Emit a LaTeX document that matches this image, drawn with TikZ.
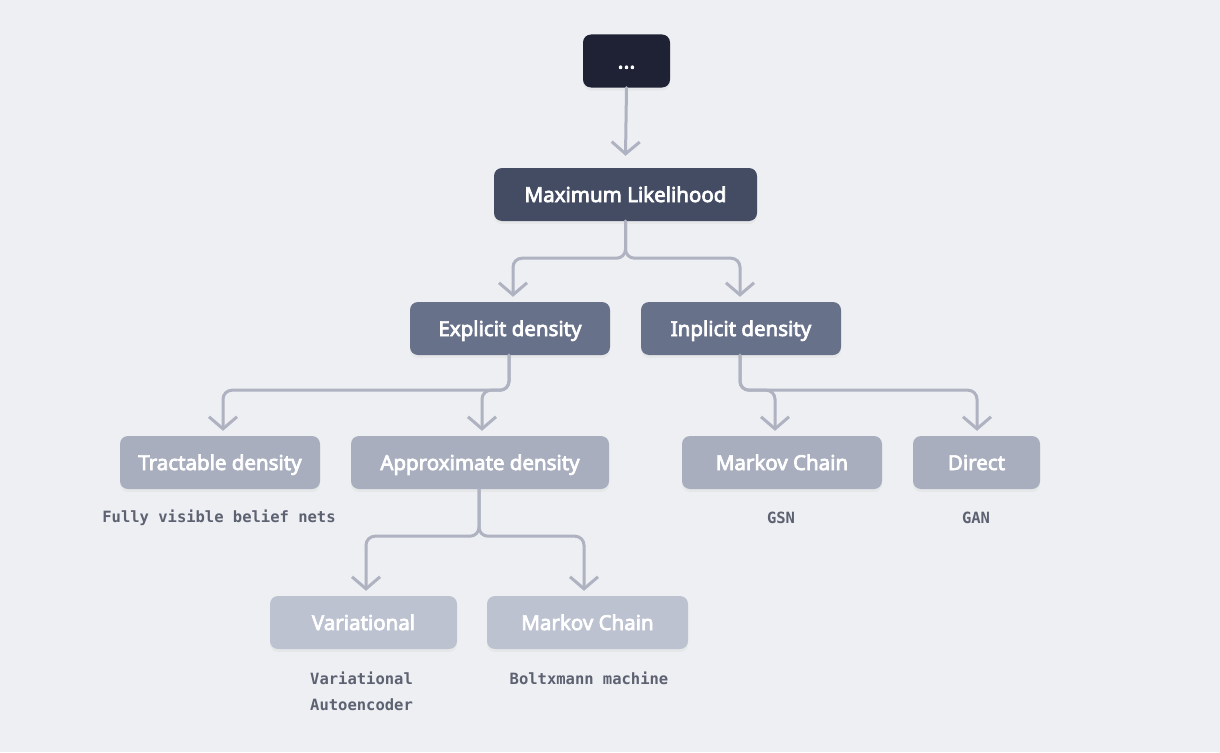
\documentclass[tikz,border=0pt]{standalone}
\usepackage{fontspec}
\setmainfont{Noto Sans}
\newfontfamily\boxfont{Noto Sans}[FakeBold=3.5]
\newfontfamily\labfont{DejaVu Sans Mono}
\usetikzlibrary{arrows.meta,shadows}
\definecolor{bg}{HTML}{EEEFF2}
\definecolor{cTop}{HTML}{1E2234}
\definecolor{cML}{HTML}{434C62}
\definecolor{cL2}{HTML}{68718A}
\definecolor{cL3}{HTML}{A8AEBD}
\definecolor{cL4}{HTML}{BDC2D1}
\definecolor{cConn}{HTML}{AFB2C1}
\definecolor{cLab}{HTML}{5D6272}
\begin{document}
\begin{tikzpicture}[x=1pt,y=-1pt,
  box/.style={rounded corners=8pt, minimum height=53pt, inner sep=0pt, text=white,
    text height=18pt, text depth=3pt,
    font=\boxfont\fontsize{20.5}{24}\selectfont,
    drop shadow={opacity=0.07, shadow xshift=0pt, shadow yshift=-3pt}},
  lab/.style={text=cLab, inner sep=0pt, font=\labfont\bfseries\fontsize{15.5}{26}\selectfont},
  conn/.style={draw=cConn, line width=3pt, rounded corners=9pt, line cap=round,
    -{Straight Barb[length=12pt,width=28pt,line width=3pt]}}
]
\fill[bg] (0,0) rectangle (1220,752);
\useasboundingbox (0,0) rectangle (1220,752);

\node[box, fill=cTop, minimum width=87pt] (top) at (626.5,61) {\fontsize{22}{24}\selectfont ...};
\node[box, fill=cML, minimum width=263pt] (ml) at (625.5,194.5) {Maximum Likelihood};
\node[box, fill=cL2, minimum width=200pt] (expl) at (510,328.5) {Explicit density};
\node[box, fill=cL2, minimum width=200pt] (impl) at (741,328.5) {Inplicit density};
\node[box, fill=cL3, minimum width=200pt] (tract) at (220,462.5) {Tractable density};
\node[box, fill=cL3, minimum width=258pt] (approx) at (480,462.5) {Approximate density};
\node[box, fill=cL3, minimum width=200pt] (mc1) at (782,462.5) {Markov Chain};
\node[box, fill=cL3, minimum width=127pt] (direct) at (976.5,462.5) {Direct};
\node[box, fill=cL4, minimum width=187pt] (var) at (363.5,622.5) {Variational};
\node[box, fill=cL4, minimum width=201pt] (mc2) at (587.5,622.5) {Markov Chain};

\node[lab] (l1) at (219,518) {Fully visible belief nets};
\node[lab] (l2) at (781,518) {GSN};
\node[lab] (l3) at (976,518) {GAN};
\node[lab, align=left, anchor=north west] (l4) at (310,672) {Variational\\Autoencoder};
\node[lab] (l5) at (589,678) {Boltxmann machine};

\draw[conn] (top.south) -- ([yshift=12pt]ml.north);
\draw[conn] (ml.south) -- ++(0,37) -| ([xshift=3pt,yshift=5pt]expl.north);
\draw[conn] (ml.south) -- ++(0,37) -| ([xshift=-1pt,yshift=5pt]impl.north);
\draw[conn] ([xshift=-1pt]expl.south) -- ++(0,35) -| ([xshift=3pt,yshift=5pt]tract.north);
\draw[conn] ([xshift=-1pt]expl.south) -- ++(0,35) -| ([xshift=2pt,yshift=5pt]approx.north);
\draw[conn] ([xshift=-1pt]impl.south) -- ++(0,35) -| ([xshift=-7pt,yshift=5pt]mc1.north);
\draw[conn] ([xshift=-1pt]impl.south) -- ++(0,35) -| ([xshift=0.5pt,yshift=5pt]direct.north);
\draw[conn] ([xshift=-1pt]approx.south) -- ++(0,47) -| ([xshift=2.5pt,yshift=5pt]var.north);
\draw[conn] ([xshift=-1pt]approx.south) -- ++(0,47) -| ([xshift=-3.5pt,yshift=5pt]mc2.north);
\end{tikzpicture}
\end{document}
